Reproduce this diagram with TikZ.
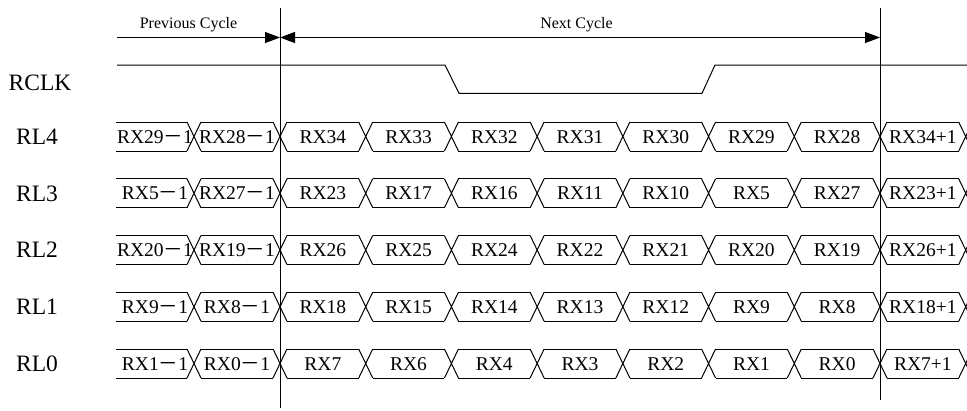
\documentclass[tikz,border=0pt]{standalone}
\usepackage{fontspec}
\setmainfont{Liberation Serif}
\newfontfamily\cjk{Noto Sans CJK SC}
\usetikzlibrary{arrows.meta}
\newcommand{\mn}{{\cjk －}}
\tikzset{
  sigline/.style={line width=1pt, line join=miter},
  celltext/.style={anchor=base, inner sep=0pt, font=\fontsize{19.5}{20}\selectfont},
  lbl/.style={anchor=base, inner sep=0pt, font=\fontsize{23.5}{24}\selectfont},
  cyc/.style={anchor=base, inner sep=0pt, font=\fontsize{16}{18}\selectfont},
  tip/.tip={Triangle[length=15pt,width=11pt]},
}
\newcommand{\busrow}[4]{%
  \node[lbl] (#2) at (37,#1+7.8) {#3};
  \draw[sigline] (116,#1-14.5) -- (187,#1-14.5) (116,#1+14.5) -- (187,#1+14.5);
  \foreach \c in {194,280,365.71,451.43,537.14,622.86,708.57,794.29,880,965.71}{%
    \draw[sigline] (\c-7,#1-14.5) -- (\c+7,#1+14.5) (\c-7,#1+14.5) -- (\c+7,#1-14.5);}
  \foreach \a/\b in {194/280,280/365.71,365.71/451.43,451.43/537.14,537.14/622.86,622.86/708.57,708.57/794.29,794.29/880,880/965.71}{%
    \draw[sigline] (\a+7,#1-14.5) -- (\b-7,#1-14.5) (\a+7,#1+14.5) -- (\b-7,#1+14.5);}
  \foreach \t/\m [count=\i] in {#4}{%
    \node[celltext] (#2-\i) at (\m,#1+6.5) {\t};}
}
\begin{document}
\begin{tikzpicture}[x=1pt,y=-1pt]
\useasboundingbox (0,0) rectangle (967,410);
% vertical cycle boundaries
\coordinate (la) at (280,8);
\coordinate (lb) at (280,408);
\coordinate (ra) at (880,8);
\coordinate (rb) at (880,400);
\draw[sigline] (la) -- (lb);
\draw[sigline] (ra) -- (rb);
% cycle arrows
\coordinate (pa) at (117,37.5);
\coordinate (pb) at (280,37.5);
\coordinate (nb) at (880,37.5);
\draw[sigline,-tip] (pa) -- (pb);
\draw[sigline,tip-tip] (pb) -- (nb);
\node[cyc] (prev) at (188.5,28) {Previous Cycle};
\node[cyc] (next) at (576.5,28) {Next Cycle};
% clock
\node[lbl] (rclk) at (40,90.8) {RCLK};
\draw[sigline] (117,65) -- (445,65) -- (459,93.3) -- (702,93.3) -- (715,65) -- (967,65);
% data rows
\busrow{136.5}{rl4}{RL4}{RX29\mn1/155,RX28\mn1/237,RX34/322.86,RX33/408.57,RX32/494.29,RX31/580,RX30/665.71,RX29/751.43,RX28/837.14,RX34+1/922.86}
\busrow{193.25}{rl3}{RL3}{RX5\mn1/155,RX27\mn1/237,RX23/322.86,RX17/408.57,RX16/494.29,RX11/580,RX10/665.71,RX5/751.43,RX27/837.14,RX23+1/922.86}
\busrow{250}{rl2}{RL2}{RX20\mn1/155,RX19\mn1/237,RX26/322.86,RX25/408.57,RX24/494.29,RX22/580,RX21/665.71,RX20/751.43,RX19/837.14,RX26+1/922.86}
\busrow{306.75}{rl1}{RL1}{RX9\mn1/155,RX8\mn1/237,RX18/322.86,RX15/408.57,RX14/494.29,RX13/580,RX12/665.71,RX9/751.43,RX8/837.14,RX18+1/922.86}
\busrow{363.5}{rl0}{RL0}{RX1\mn1/155,RX0\mn1/237,RX7/322.86,RX6/408.57,RX4/494.29,RX3/580,RX2/665.71,RX1/751.43,RX0/837.14,RX7+1/922.86}
\end{tikzpicture}
\end{document}
